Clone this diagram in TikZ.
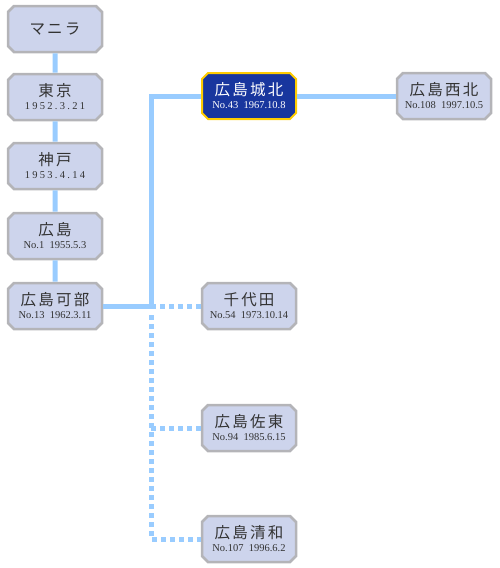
\documentclass[tikz,border=0pt]{standalone}
\usepackage{fontspec}
\setmainfont{Liberation Serif}
\newfontfamily\jp[LetterSpace=14]{Noto Sans CJK JP}
\newfontfamily\wide[LetterSpace=22]{Liberation Serif}
\usepackage{tikz}
\usetikzlibrary{positioning, shapes.misc, calc}
\definecolor{linkblue}{HTML}{99CCFF}
\definecolor{boxfill}{HTML}{CDD4EC}
\definecolor{boxedge}{HTML}{B4B4B8}
\definecolor{selfill}{HTML}{18369E}
\definecolor{seledge}{HTML}{FFCC00}

\newcommand{\stname}[1]{{\jp\fontsize{15.5}{17}\selectfont #1}}
\newcommand{\station}[2]{\stname{#1}\\[1pt]{\fontsize{10.5}{11}\selectfont #2}}

\begin{document}
\begin{tikzpicture}[x=1pt, y=-1pt,
    stn/.style={chamfered rectangle, chamfered rectangle xsep=3pt, chamfered rectangle ysep=3pt,
      fill=boxfill, draw=boxedge, line width=2.5pt, minimum width=94pt, minimum height=46pt,
      inner sep=1pt, align=center, text=black!80},
    cur/.style={stn, fill=selfill, draw=seledge, line width=2pt, text=white},
    link/.style={draw=linkblue, line width=5pt},
    dotlink/.style={draw=linkblue, line width=5pt, dash pattern=on 5pt off 4pt}]
    \useasboundingbox (0,0) rectangle (500,568);

    % left column
    \node[stn] (manila)    at (55,29)  {\stname{マニラ}};
    \node[stn] (tokyo)     at (55,97)  {\station{東京}{\wide 1952.3.21}};
    \node[stn] (kobe)      at (55,166) {\station{神戸}{\wide 1953.4.14}};
    \node[stn] (hiroshima) at (55,236) {\station{広島}{No.1\ \ 1955.5.3}};
    \node[stn] (kabe)      at (55,306) {\station{広島可部}{No.13\ \ 1962.3.11}};

    % right side
    \node[cur] (johoku)  at (249,96)  {\station{広島城北}{No.43\ \ 1967.10.8}};
    \node[stn] (seihoku) at (444,96)  {\station{広島西北}{No.108\ \ 1997.10.5}};
    \node[stn] (chiyoda) at (249,306) {\station{千代田}{No.54\ \ 1973.10.14}};
    \node[stn] (sato)    at (249,428) {\station{広島佐東}{No.94\ \ 1985.6.15}};
    \node[stn] (seiwa)   at (249,539) {\station{広島清和}{No.107\ \ 1996.6.2}};

    \coordinate (fork) at (151,306);

    \draw[link] (manila) -- (tokyo);
    \draw[link] (tokyo) -- (kobe);
    \draw[link] (kobe) -- (hiroshima);
    \draw[link] (hiroshima) -- (kabe);
    \draw[link] (kabe.east) -- (fork) |- (johoku.west);
    \draw[link] (johoku.east) -- (seihoku.west);
    \draw[dotlink] (fork) -- (chiyoda.west);
    \draw[dotlink] ($(fork)+(0,9)$) |- (seiwa.west);
    \draw[dotlink] (fork |- sato.west) -- (sato.west);
\end{tikzpicture}
\end{document}
